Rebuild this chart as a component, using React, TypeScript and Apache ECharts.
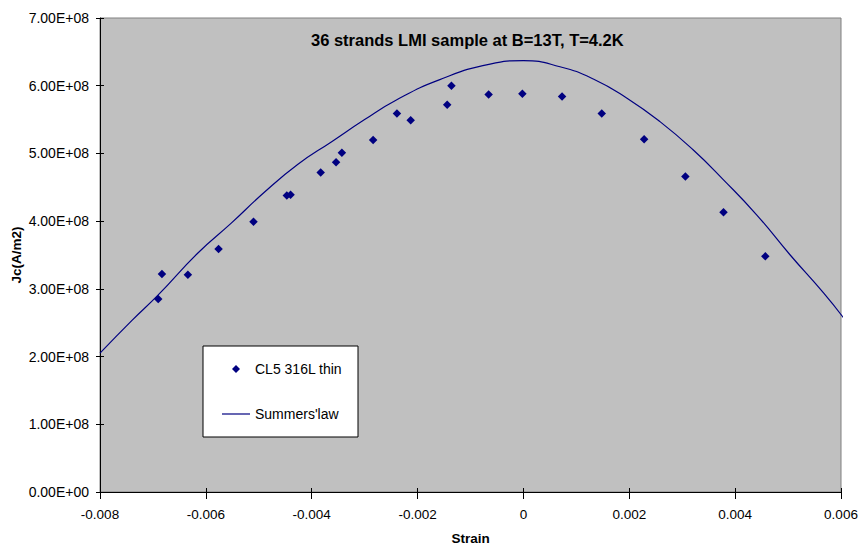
import React, { useEffect, useRef } from "react";
import * as echarts from "echarts";

const titleText = "36 strands LMI sample at B=13T, T=4.2K";
const xName = "Strain";
const yName = "Jc(A/m2)";
const scatterName = "CL5 316L thin";
const lineName = "Summers'law";

// measured points (strain, Jc in A/m2)
const measuredStrain = [
  -0.0069, -0.00683, -0.00634, -0.00576, -0.0051, -0.00447, -0.0044, -0.00383,
  -0.00354, -0.00343, -0.00284, -0.00239, -0.00213, -0.00144, -0.00136,
  -0.000658, -0.00002, 0.00073, 0.00148, 0.00228, 0.00306, 0.00378, 0.00457,
];
const measuredJc = [
  2.85e8, 3.22e8, 3.21e8, 3.59e8, 3.99e8, 4.38e8, 4.39e8, 4.72e8, 4.87e8,
  5.01e8, 5.2e8, 5.59e8, 5.49e8, 5.72e8, 6.0e8, 5.87e8, 5.88e8, 5.84e8,
  5.59e8, 5.21e8, 4.66e8, 4.13e8, 3.48e8,
];

// Summers' law curve
const curveStrain = [
  -0.008, -0.0074, -0.0069, -0.00615, -0.00552, -0.00489, -0.00426, -0.00363,
  -0.003, -0.0024, -0.00158, -0.00063, 0.0, 0.00069, 0.00132, 0.00195,
  0.00258, 0.00321, 0.00378, 0.00441, 0.00504, 0.00567, 0.00605,
];
const curveJc = [
  2.05e8, 2.53e8, 2.91e8, 3.53e8, 3.97e8, 4.43e8, 4.84e8, 5.17e8, 5.5e8,
  5.79e8, 6.09e8, 6.32e8, 6.37e8, 6.28e8, 6.1e8, 5.82e8, 5.47e8, 5.05e8,
  4.61e8, 4.09e8, 3.5e8, 2.94e8, 2.57e8,
];

const xMin = -0.008;
const xMax = 0.006;
const xStep = 0.002;
const yMin = 0;
const yMax = 7e8;
const yStep = 1e8;

const FONT = 'Arial, "Liberation Sans", sans-serif';
const NAVY = "#000080";

function fmtExp(v: number): string {
  if (v === 0) return "0.00E+00";
  const e = Math.floor(Math.log10(Math.abs(v)) + 1e-9);
  const m = v / Math.pow(10, e);
  const es = (e < 0 ? "-" : "+") + String(Math.abs(e)).padStart(2, "0");
  return m.toFixed(2) + "E" + es;
}

function fmtX(v: number): string {
  return String(parseFloat(v.toFixed(3)));
}

export default function App() {
  const ref = useRef<HTMLDivElement>(null);
  useEffect(() => {
    if (!ref.current) return;
    const chart = echarts.init(ref.current, null, { renderer: "svg" });
    const scatterData = measuredStrain.map((x, i) => [x, measuredJc[i]]);
    const lineData = curveStrain.map((x, i) => [x, curveJc[i]]);
    const legendText = { fontFamily: FONT, fontSize: 14, color: "#000" };
    chart.setOption({
      animation: false,
      backgroundColor: "#ffffff",
      title: {
        text: titleText,
        left: 306,
        top: 26,
        textStyle: {
          fontFamily: FONT,
          fontSize: 16.5,
          fontWeight: "bold",
          color: "#000",
        },
      },
      grid: {
        left: 100,
        top: 18,
        width: 741,
        height: 474,
        containLabel: false,
        outerBoundsMode: "none",
        show: true,
        backgroundColor: "#C0C0C0",
        borderColor: "#808080",
        borderWidth: 1,
      },
      legend: [
        {
          data: [
            {
              name: scatterName,
              icon: "path://M0,0 M28,8 M14,0 L18,4 L14,8 L10,4 Z",
              itemStyle: { color: NAVY, opacity: 1 },
            },
          ],
          left: 222,
          top: 362,
          itemWidth: 28,
          itemHeight: 8,
          textStyle: legendText,
          padding: 0,
          selectedMode: false,
          z: 5,
        },
        {
          data: [
            {
              name: lineName,
              icon: "rect",
              itemStyle: { color: NAVY, opacity: 1 },
            },
          ],
          left: 222,
          top: 407,
          itemWidth: 28,
          itemHeight: 1.2,
          textStyle: legendText,
          padding: 0,
          selectedMode: false,
          z: 5,
        },
      ],
      graphic: [
        {
          type: "rect",
          shape: { x: 203, y: 346, width: 155, height: 91 },
          style: { fill: "#ffffff", stroke: "#000000", lineWidth: 1 },
          z: 3,
        },
      ],
      xAxis: [
        {
          type: "value",
          min: xMin,
          max: xMax,
          interval: xStep,
          name: xName,
          nameLocation: "middle",
          nameGap: 39,
          nameMoveOverlap: false,
          nameTextStyle: {
            fontFamily: FONT,
            fontSize: 13.5,
            fontWeight: "bold",
            color: "#000",
          },
          axisLine: { show: true, onZero: false, lineStyle: { color: "#000", width: 1 } },
          axisTick: { show: true, inside: false, length: 7, lineStyle: { color: "#000" } },
          axisLabel: {
            fontFamily: FONT,
            fontSize: 13.5,
            color: "#000",
            margin: 15,
            formatter: (v: number) => fmtX(v),
          },
          splitLine: { show: false },
        },
        {
          type: "value",
          position: "bottom",
          min: xMin,
          max: xMax,
          interval: xStep,
          axisLine: { show: false, onZero: false },
          axisTick: { show: true, inside: true, length: 4, lineStyle: { color: "#000" } },
          axisLabel: { show: false },
          splitLine: { show: false },
        },
      ],
      yAxis: [
        {
          type: "value",
          min: yMin,
          max: yMax,
          interval: yStep,
          name: yName,
          nameLocation: "middle",
          nameGap: 77,
          nameMoveOverlap: false,
          nameTextStyle: {
            fontFamily: FONT,
            fontSize: 13.5,
            fontWeight: "bold",
            color: "#000",
          },
          axisLine: { show: true, onZero: false, lineStyle: { color: "#000", width: 1 } },
          axisTick: { show: true, inside: false, length: 4, lineStyle: { color: "#000" } },
          axisLabel: {
            fontFamily: FONT,
            fontSize: 14,
            color: "#000",
            margin: 11,
            formatter: (v: number) => fmtExp(v),
          },
          splitLine: { show: false },
        },
        {
          type: "value",
          position: "left",
          min: yMin,
          max: yMax,
          interval: yStep,
          axisLine: { show: false, onZero: false },
          axisTick: { show: true, inside: true, length: 4, lineStyle: { color: "#000" } },
          axisLabel: { show: false },
          splitLine: { show: false },
        },
      ],
      series: [
        {
          name: scatterName,
          type: "scatter",
          symbol: "diamond",
          symbolSize: 8.5,
          itemStyle: { color: NAVY, opacity: 1 },
          data: scatterData,
          z: 3,
        },
        {
          name: lineName,
          type: "line",
          symbol: "none",
          showSymbol: false,
          smooth: 0.5,
          lineStyle: { color: NAVY, width: 1.2 },
          itemStyle: { color: NAVY },
          data: lineData,
          z: 2,
        },
      ],
    });
    return () => chart.dispose();
  }, []);
  return (
    <div
      ref={ref}
      style={{ position: "fixed", left: 0, top: 0, width: 859, height: 544 }}
    />
  );
}
